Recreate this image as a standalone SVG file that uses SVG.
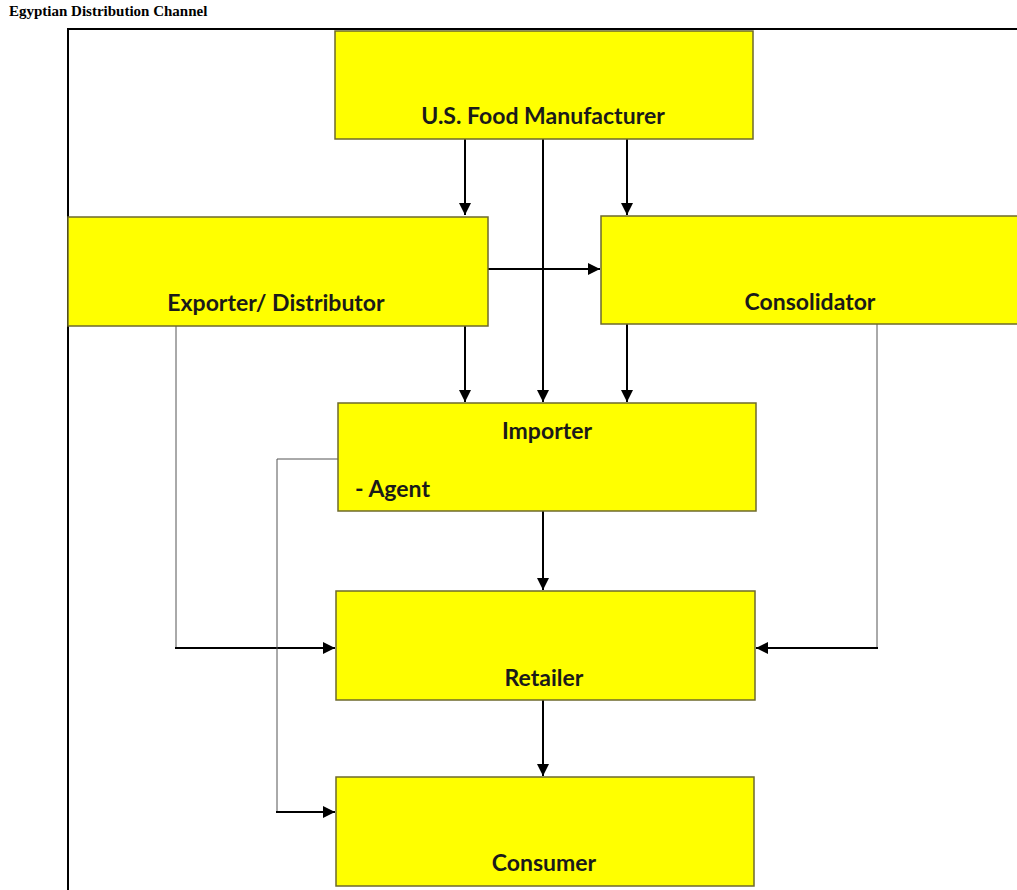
<svg xmlns="http://www.w3.org/2000/svg" width="1017" height="890" viewBox="0 0 1017 890">
<style>
.box{fill:#ffff00;stroke:#6e6a2c;stroke-width:1.5}
.lbl{font-family:Lato,"Liberation Sans",sans-serif;font-weight:bold;font-size:23px;fill:#1a1a1a}
.c{stroke:#000;stroke-width:2;fill:none}
.t{stroke:#555;stroke-width:1;fill:none}
</style>
<defs>
<marker id="ah" viewBox="0 0 10 10" refX="10" refY="5" markerWidth="12" markerHeight="12" markerUnits="userSpaceOnUse" orient="auto">
<path d="M0,0 L10,5 L0,10 z" fill="#000"/>
</marker>
</defs>
<rect width="1017" height="890" fill="#fff"/>
<text x="9" y="16" font-family="Liberation Serif,serif" font-weight="bold" font-size="15">Egyptian Distribution Channel</text>
<rect x="68" y="29" width="1000" height="900" fill="none" stroke="#000" stroke-width="2"/>
<g id="connectors">
<path class="c" d="M465,139 V215" marker-end="url(#ah)"/>
<path class="c" d="M627,139 V215" marker-end="url(#ah)"/>
<path class="c" d="M543,139 V402" marker-end="url(#ah)"/>
<path class="c" d="M488,269 H600" marker-end="url(#ah)"/>
<path class="c" d="M465,326 V402" marker-end="url(#ah)"/>
<path class="c" d="M627,324 V402" marker-end="url(#ah)"/>
<path class="c" d="M543,511 V590" marker-end="url(#ah)"/>
<path class="c" d="M543,700 V776" marker-end="url(#ah)"/>
<path class="t" d="M176,326 V648"/>
<path class="c" d="M175,648 H335" marker-end="url(#ah)"/>
<path class="t" d="M877,324 V648"/>
<path class="c" d="M878,648 H756" marker-end="url(#ah)"/>
<path class="t" d="M338,459 H277 V812"/>
<path class="c" d="M276,812 H335" marker-end="url(#ah)"/>
</g>
<g id="manufacturer"><rect class="box" x="335" y="31" width="418" height="108"/><text class="lbl" x="543" y="124" text-anchor="middle">U.S. Food Manufacturer</text></g>
<g id="exporter"><rect class="box" x="68" y="217" width="420" height="109"/><text class="lbl" x="276" y="311" text-anchor="middle">Exporter/ Distributor</text></g>
<g id="consolidator"><rect class="box" x="601" y="216" width="430" height="108"/><text class="lbl" x="810" y="310" text-anchor="middle">Consolidator</text></g>
<g id="importer"><rect class="box" x="338" y="403" width="418" height="108"/><text class="lbl" x="547" y="439" text-anchor="middle">Importer</text><text class="lbl" x="355" y="497">- Agent</text></g>
<g id="retailer"><rect class="box" x="336" y="591" width="419" height="109"/><text class="lbl" x="544" y="686" text-anchor="middle">Retailer</text></g>
<g id="consumer"><rect class="box" x="336" y="777" width="418" height="109"/><text class="lbl" x="544" y="871" text-anchor="middle">Consumer</text></g>
</svg>
